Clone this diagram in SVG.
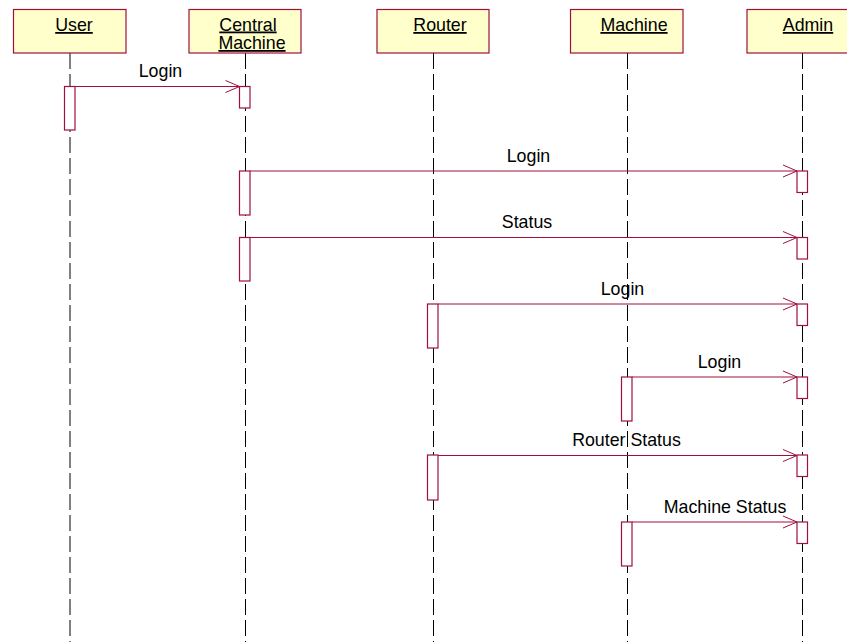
<svg xmlns="http://www.w3.org/2000/svg" width="847" height="642" viewBox="0 0 847 642">
<defs>
<style>
.hdr{fill:#ffffcc;stroke:#a0103c;stroke-width:1.2}
.ht{font-family:"Liberation Sans",Arial,sans-serif;font-size:17.8px;fill:#000;text-anchor:middle;text-decoration:underline}
.life{stroke:#000;stroke-width:1;stroke-dasharray:16,5;fill:none}
.act{fill:#fff;stroke:#a0103c;stroke-width:1.2}
.msg{stroke:#a0103c;stroke-width:1;fill:none}
.ml{font-family:"Liberation Sans",Arial,sans-serif;font-size:17.8px;fill:#000;text-anchor:middle}
</style>
<marker id="arr" markerWidth="16" markerHeight="14" refX="15" refY="7" orient="auto" markerUnits="userSpaceOnUse">
<path d="M1,1 L15,7 L1,13" fill="none" stroke="#a0103c" stroke-width="1"/>
</marker>
</defs>
<rect width="847" height="642" fill="#fff"/>
<g id="lifelines">
<line class="life" x1="70" y1="53" x2="70" y2="642" stroke="#555"/>
<line class="life" x1="245.5" y1="53" x2="245.5" y2="642"/>
<line class="life" x1="433.5" y1="53" x2="433.5" y2="642"/>
<line class="life" x1="627.5" y1="53" x2="627.5" y2="642"/>
<line class="life" x1="802.5" y1="53" x2="802.5" y2="642"/>
</g>
<g id="user">
<rect class="hdr" x="13.5" y="9.5" width="112.5" height="43.5"/>
<text class="ht" x="74" y="31">User</text>
</g>
<g id="central">
<rect class="hdr" x="189" y="9.5" width="112" height="43.5"/>
<text class="ht" x="248" y="30.5">Central</text>
<text class="ht" x="252" y="49">Machine</text>
</g>
<g id="router">
<rect class="hdr" x="377" y="9.5" width="112" height="43.5"/>
<text class="ht" x="440" y="31">Router</text>
</g>
<g id="machine">
<rect class="hdr" x="570.5" y="9.5" width="112.5" height="43.5"/>
<text class="ht" x="634" y="31">Machine</text>
</g>
<g id="admin">
<rect class="hdr" x="747" y="9.5" width="113" height="43.5"/>
<text class="ht" x="808" y="31">Admin</text>
</g>
<g id="activations">
<rect class="act" x="64.5" y="86.5" width="10.5" height="43.5"/>
<rect class="act" x="239.5" y="86.5" width="10.5" height="21.5"/>
<rect class="act" x="239.5" y="171" width="10.5" height="44"/>
<rect class="act" x="239.5" y="237.5" width="10.5" height="43.5"/>
<rect class="act" x="427.5" y="304" width="10.5" height="44"/>
<rect class="act" x="621.5" y="377" width="10.5" height="44"/>
<rect class="act" x="427.5" y="455" width="10.5" height="45"/>
<rect class="act" x="621.5" y="522" width="10.5" height="44"/>
<rect class="act" x="797" y="171" width="10.5" height="21.5"/>
<rect class="act" x="797" y="237.5" width="10.5" height="21.5"/>
<rect class="act" x="797" y="304" width="10.5" height="21.5"/>
<rect class="act" x="797" y="377" width="10.5" height="21.5"/>
<rect class="act" x="797" y="455" width="10.5" height="21.5"/>
<rect class="act" x="797" y="522" width="10.5" height="21.5"/>
</g>
<g id="connectors">
<line class="msg" x1="75" y1="86.5" x2="239.5" y2="86.5" marker-end="url(#arr)"/>
<line class="msg" x1="250" y1="171" x2="797" y2="171" marker-end="url(#arr)"/>
<line class="msg" x1="250" y1="237.5" x2="797" y2="237.5" marker-end="url(#arr)"/>
<line class="msg" x1="438" y1="304" x2="797" y2="304" marker-end="url(#arr)"/>
<line class="msg" x1="632" y1="377" x2="797" y2="377" marker-end="url(#arr)"/>
<line class="msg" x1="438" y1="455.5" x2="797" y2="455.5" marker-end="url(#arr)"/>
<line class="msg" x1="632" y1="522" x2="797" y2="522" marker-end="url(#arr)"/>
<text class="ml" x="160.5" y="77">Login</text>
<text class="ml" x="528.5" y="162">Login</text>
<text class="ml" x="527" y="228">Status</text>
<text class="ml" x="622.5" y="295">Login</text>
<text class="ml" x="719.5" y="368">Login</text>
<text class="ml" x="626.5" y="446">Router Status</text>
<text class="ml" x="725" y="513">Machine Status</text>
</g>
</svg>
